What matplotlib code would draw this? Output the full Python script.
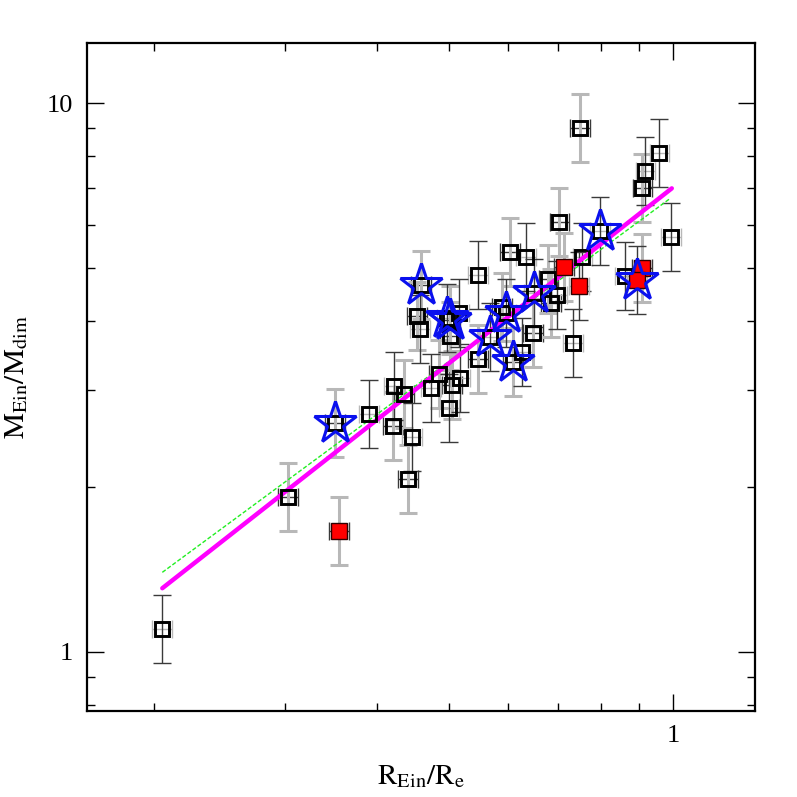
import matplotlib
matplotlib.use("Agg")
import matplotlib.pyplot as plt
import numpy as np
from matplotlib.ticker import FixedLocator, NullFormatter, FixedFormatter

# ---------------- data ----------------
# open black squares (R_Ein/R_e, M_Ein/M_dim)
sq_x = [0.2054, 0.3029, 0.3507, 0.3898, 0.4200, 0.4453, 0.4398, 0.4212, 0.4345, 0.4724,
        0.4843, 0.4995, 0.5042, 0.5168, 0.4522, 0.4564, 0.4574, 0.4960, 0.5011, 0.5147,
        0.5011, 0.5461, 0.5461, 0.5674, 0.5888, 0.5961, 0.6035, 0.6334, 0.6086, 0.6257,
        0.6474, 0.6501, 0.6795, 0.6987, 0.6852, 0.7329, 0.7030, 0.7498, 0.7550, 0.7977,
        0.8617, 0.9092, 0.9177, 0.9585, 0.9938]
sq_y = [1.100, 1.911, 2.608, 2.712, 2.578, 2.462, 2.064, 3.050, 2.949, 3.024,
        3.207, 2.782, 3.063, 3.154, 4.091, 3.873, 4.659, 4.057, 4.023, 4.143,
        3.761, 4.860, 3.416, 3.745, 4.249, 4.143, 5.350, 5.241, 3.373, 3.517,
        3.809, 4.505, 4.778, 4.467, 4.320, 3.652, 6.068, 9.016, 5.247, 5.844,
        4.840, 6.990, 7.516, 8.094, 5.705]
# error-bar shade group per square: 0 = dark, 1 = light
sq_group = [0, 1, 1, 0, 1, 0, 1, 0, 1, 0,
            1, 0, 1, 0, 1, 0, 1, 0, 1, 0,
            1, 0, 1, 0, 1, 0, 1, 0, 1, 0,
            1, 0, 1, 0, 1, 0, 1, 1, 0, 0,
            0, 1, 0, 0, 0]

# filled red squares
red_x = [0.3551, 0.7133, 0.7474, 0.9076, 0.8937]
red_y = [1.662, 5.031, 4.645, 5.010, 4.758]
red_group = [1, 1, 0, 1, 0]

# flagged objects (blue stars)
star_x = [0.3507, 0.4574, 0.4960, 0.5011, 0.5674, 0.5961, 0.6086, 0.6501, 0.7977, 0.8937]
star_y = [2.608, 4.659, 4.057, 4.023, 3.745, 4.143, 3.373, 4.505, 5.844, 4.758]

# fractional errors
x_err_frac = 0.031
y_err_frac = 0.153

# fits
fit_x = [0.2054, 0.996]
fit_y = [1.305, 6.99]
fit2_x = [0.2054, 0.991]
fit2_y = [1.395, 6.70]

xlim = (0.1625, 1.289)
ylim = (0.7806, 12.85)

# ---------------- plot ----------------
plt.rcParams['mathtext.fontset'] = 'stix'
plt.rcParams['font.family'] = ['Liberation Serif', 'DejaVu Serif']

fig = plt.figure(figsize=(7.97, 7.97), dpi=100)
ax = fig.add_axes([0.1088, 0.1083, 0.9473 - 0.1088, 0.9457 - 0.1083])
ax.set_xscale('log')
ax.set_yscale('log')

DARK = '#3a3a3a'
LIGHT = '#b8b8b8'


def draw_err(xs, ys, groups):
    xs = np.asarray(xs); ys = np.asarray(ys); groups = np.asarray(groups)
    xe = np.vstack([xs - xs / (1 + x_err_frac), xs * x_err_frac])
    ye = np.vstack([ys - ys / (1 + y_err_frac), ys * y_err_frac])
    for g, col, lw, other in [(1, LIGHT, 2.2, DARK), (0, DARK, 1.0, LIGHT)]:
        m = groups == g
        if not m.any():
            continue
        ax.errorbar(xs[m], ys[m], xerr=xe[:, m], fmt='none',
                    ecolor=other, elinewidth=1.0, capsize=6.5, capthick=1.0, zorder=2)
        ax.errorbar(xs[m], ys[m], yerr=ye[:, m], fmt='none',
                    ecolor=col, elinewidth=lw, capsize=6.5, capthick=lw, zorder=2)


draw_err(sq_x, sq_y, sq_group)
draw_err(red_x, red_y, red_group)

ax.plot(fit2_x, fit2_y, color='#22ee22', lw=1.0, dashes=(3, 1.5), zorder=3)
ax.plot(fit_x, fit_y, color='#ff00ff', lw=3.2, solid_capstyle='round', zorder=3)

ax.plot(sq_x, sq_y, 's', ms=10, mfc='none', mec='black', mew=2.1, zorder=4)
ax.plot(red_x, red_y, 's', ms=11, mfc='#ff0000', mec='#300000', mew=1.0, zorder=5)
ax.plot(star_x, star_y, '*', ms=32, mfc='none', mec='#0a10ee', mew=2.2, zorder=6)

ax.set_xlim(*xlim)
ax.set_ylim(*ylim)

ax.xaxis.set_major_locator(FixedLocator([1.0]))
ax.xaxis.set_major_formatter(FixedFormatter(['1']))
ax.xaxis.set_minor_locator(FixedLocator([0.2, 0.3, 0.4, 0.5, 0.6, 0.7, 0.8, 0.9]))
ax.xaxis.set_minor_formatter(NullFormatter())
ax.yaxis.set_major_locator(FixedLocator([1.0, 10.0]))
ax.yaxis.set_major_formatter(FixedFormatter(['1', '10']))
ax.yaxis.set_minor_locator(FixedLocator([0.8, 0.9, 2, 3, 4, 5, 6, 7, 8, 9]))
ax.yaxis.set_minor_formatter(NullFormatter())

ax.tick_params(which='both', direction='in', top=True, right=True, width=1.0,
               labelsize=19, pad=10)
ax.tick_params(which='major', length=12)
ax.tick_params(which='minor', length=6)
for s in ax.spines.values():
    s.set_linewidth(1.6)

ax.set_xlabel(r'$\mathrm{R_{Ein}/R_{e}}$', fontsize=21, labelpad=12)
ax.set_ylabel(r'$\mathrm{M_{Ein}/M_{dim}}$', fontsize=21, labelpad=12)

fig.savefig('out.png', dpi=100)
